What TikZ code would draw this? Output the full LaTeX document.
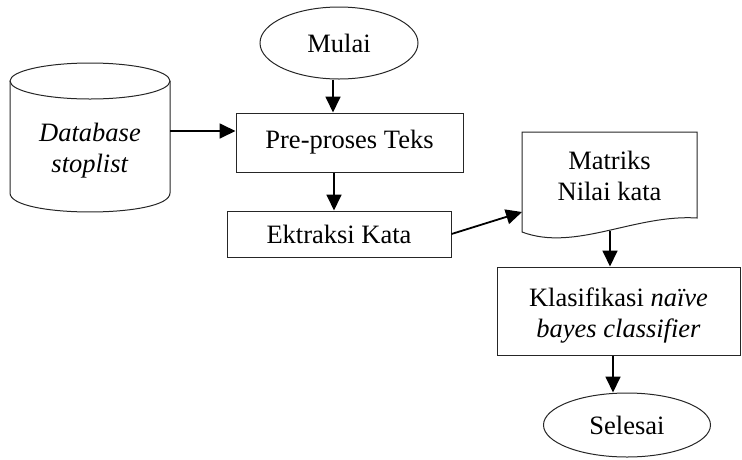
\documentclass[tikz,border=0pt]{standalone}
\usepackage{fontspec}
\setmainfont{Liberation Serif}
\usetikzlibrary{arrows.meta,shapes.geometric}
\begin{document}
\begin{tikzpicture}[x=1pt,y=-1pt,
  every node/.style={font=\fontsize{26.5}{31}\selectfont, inner sep=0pt},
  procbox/.style={draw=black!85, line width=1pt, rectangle, align=center},
  terminal/.style={draw=black!85, line width=1pt, ellipse},
  shapeline/.style={draw=black!85, line width=1pt},
  flow/.style={line width=1.8pt, -{Triangle[length=16pt,width=15pt]}}]

\useasboundingbox (0,0) rectangle (742,459);

% process steps
\node[terminal, minimum width=158pt, minimum height=72pt] (mulai) at (339,43) {Mulai};
\node[procbox, minimum width=227pt, minimum height=59pt] (pre) at (349.5,142.5) {Pre-proses Teks};
\node[procbox, minimum width=224pt, minimum height=46pt] (ekt) at (339,234) {Ektraksi Kata};
\node[procbox, minimum width=243pt, minimum height=88pt] (kl) at (618.5,311) {};
\node[align=center] (kltext) at (618.5,316) {Klasifikasi \textit{naïve}\\\textit{bayes classifier}};
\node[terminal, minimum width=167pt, minimum height=64pt] (sel) at (627,425) {Selesai};

% database cylinder
\draw[shapeline] (10,81) -- (10,193) .. controls (10,218.3) and (170,218.3) .. (170,193) -- (170,81);
\draw[shapeline] (90,81) ellipse [x radius=80, y radius=18];
\node[align=center] (dbtext) at (90,151) {\textit{Database}\\\textit{stoplist}};
\coordinate (dbout) at (170,131);

% document with wavy bottom
\draw[shapeline] (522,132) -- (697,132) -- (697,218)
  .. controls (635,214) and (575,252) .. (522,232) -- cycle;
\node[align=center] (mat) at (609.5,176) {Matriks\\Nilai kata};
\coordinate (matin) at (522,212);
\coordinate (matout) at (610,231);

% connector start points
\coordinate (a1) at ([xshift=-6pt]mulai.south);
\coordinate (a2) at ([xshift=-5pt]ekt.north);
\coordinate (a3) at ([xshift=-5.5pt]kl.south);

% connectors
\draw[flow] (dbout) -- (dbout -| pre.west);
\draw[flow] (a1) -- (a1 |- pre.north);
\draw[flow] (a2 |- pre.south) -- (a2);
\draw[flow] (ekt.east) -- (matin);
\draw[flow] (matout) -- (matout |- kl.north);
\draw[flow] (a3) -- (a3 |- sel.north);
\end{tikzpicture}
\end{document}
